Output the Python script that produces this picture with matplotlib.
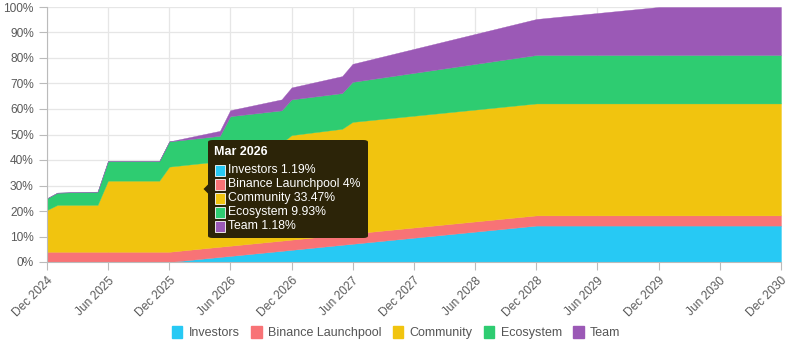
import matplotlib.pyplot as plt
from matplotlib.patches import Patch, FancyBboxPatch, Polygon, Rectangle
import pandas as pd

plt.rcParams['font.family'] = ['Liberation Sans', 'DejaVu Sans']

# month points where the vesting curves change slope
dates = ["2024-12", "2025-01", "2025-05", "2025-06", "2025-11", "2025-12",
         "2026-03", "2026-05", "2026-06", "2026-11", "2026-12", "2027-05",
         "2027-06", "2028-12", "2029-12", "2030-12"]
investors = [0, 0, 0, 0, 0, 0, 1.19, 1.98, 2.38, 4.36, 4.76, 6.74, 7.14, 14.28, 14.28, 14.28]
binance = [4, 4, 4, 4, 4, 4, 4, 4, 4, 4, 4, 4, 4, 4, 4, 4]
community = [16.4, 18.4, 18.4, 27.9, 27.9, 33.4, 33.47, 33.5, 38.1, 38.3, 41.0, 41.5, 43.8, 43.9, 43.9, 43.9]
ecosystem = [4.6, 4.8, 5.2, 7.7, 7.7, 9.9, 9.93, 10.0, 12.7, 12.8, 14.0, 14.0, 15.7, 19.0, 19.0, 19.0]
team = [0, 0, 0, 0, 0, 0, 1.18, 1.96, 2.35, 4.31, 4.70, 6.66, 7.06, 14.12, 18.82, 18.82]

names = ["Investors", "Binance Launchpool", "Community", "Ecosystem", "Team"]
colors = ["#27c9f4", "#f87376", "#f1c40f", "#2ecc71", "#9b59b6"]

# tooltip contents
tip_title = "Mar 2026"
tip_values = ["1.19%", "4%", "33.47%", "9.93%", "1.18%"]

W, H = 792, 350
fig = plt.figure(figsize=(W / 100, H / 100), dpi=100)
ax = fig.add_axes([47 / W, 1 - 262 / H, (781 - 47) / W, (262 - 7) / H])

x = pd.to_datetime(dates)
polys = ax.stackplot(x, investors, binance, community, ecosystem, team,
                     colors=colors, zorder=2)
for p, c in zip(polys, colors):
    p.set_edgecolor(c)
    p.set_linewidth(0.25)

ax.set_ylim(0, 100)
ax.set_xlim(x[0], x[-1])
ax.set_yticks(range(0, 101, 10))
ax.set_yticklabels([f"{v}%" for v in range(0, 101, 10)])
ticks = pd.date_range("2024-12-01", "2030-12-01", freq="6MS")
ax.set_xticks(ticks)
ax.set_xticklabels([t.strftime("%b %Y") for t in ticks], rotation=45,
                   ha='right', va='top', rotation_mode='anchor')

ax.grid(True, color="#e6e6e6", linewidth=0.9, zorder=0)
ax.set_axisbelow(True)
for s in ['top', 'right']:
    ax.spines[s].set_visible(False)
for s in ['left', 'bottom']:
    ax.spines[s].set_color("#bbbbbb")
ax.tick_params(axis='both', colors="#bbbbbb", labelcolor="#5a5a5a",
               labelsize=8.6, length=6, width=0.8)
ax.tick_params(axis='x', pad=3)

# tooltip box drawn in pixel positions
def fx(px):
    return px / W

def fy(py):
    return 1 - py / H

box = FancyBboxPatch((fx(208), fy(238)), fx(368) - fx(208), fy(140) - fy(238),
                     boxstyle="round,pad=0,rounding_size=0.006",
                     transform=fig.transFigure, facecolor="#2c2408",
                     edgecolor="none", zorder=5)
fig.patches.append(box)
arrow = Polygon([(fx(208.5), fy(184)), (fx(203.5), fy(189)), (fx(208.5), fy(194))],
                closed=True, transform=fig.transFigure, facecolor="#2c2408",
                edgecolor="none", zorder=5)
fig.patches.append(arrow)
fig.text(fx(214), fy(152), tip_title, color="white", fontsize=9,
         fontweight='bold', va='center', ha='left', zorder=6)
rows = [170, 184, 198, 212, 226]
for name, c, v, ry in zip(names, colors, tip_values, rows):
    sq = Rectangle((fx(215), fy(ry + 5.5)), fx(10), 10.5 / H,
                   transform=fig.transFigure, facecolor=c,
                   edgecolor="white", linewidth=0.6, zorder=6)
    fig.patches.append(sq)
    fig.text(fx(227.5), fy(ry), f"{name} {v}", color="white", fontsize=8.8,
             va='center', ha='left', zorder=6)

handles = [Patch(facecolor=c, edgecolor=c) for c in colors]
fig.legend(handles, names, loc='center', bbox_to_anchor=(0.5, fy(332.5)),
           ncol=5, frameon=False, fontsize=9, handlelength=0.85,
           handleheight=1.1, handletextpad=0.5, columnspacing=0.9,
           labelcolor="#555555")

fig.savefig("out.png", dpi=100)
